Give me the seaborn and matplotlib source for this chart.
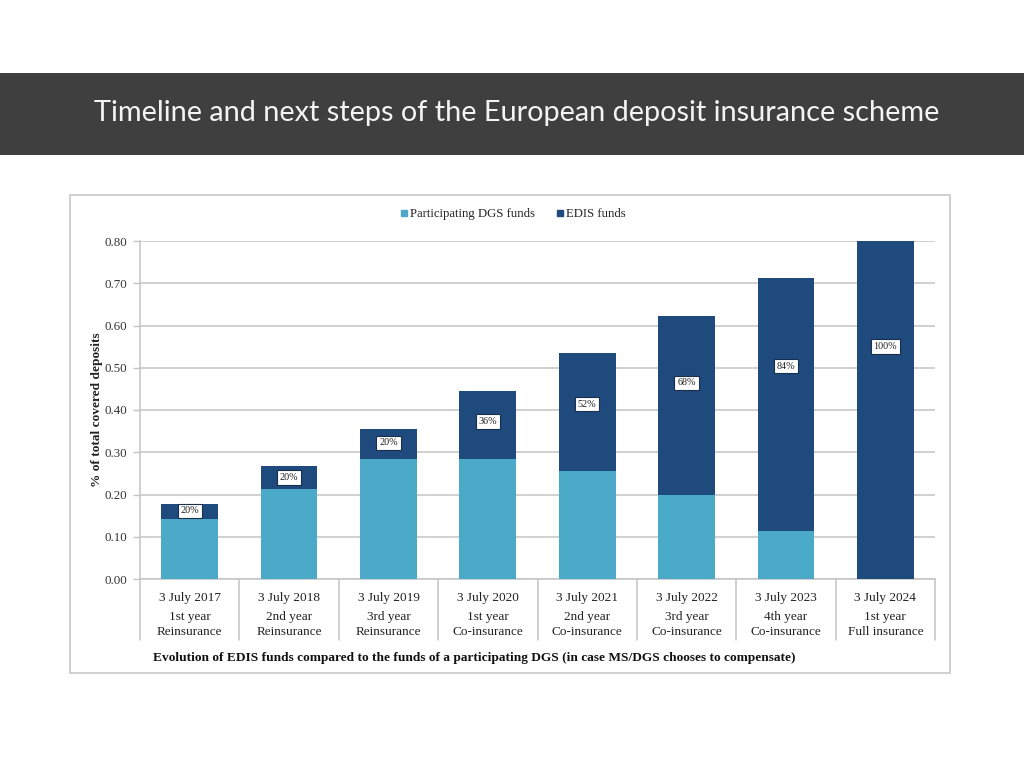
import matplotlib
matplotlib.use("Agg")
import matplotlib.pyplot as plt
import matplotlib.patches as mpatches
from matplotlib.lines import Line2D
import matplotlib.transforms as mtransforms
import seaborn as sns
import pandas as pd

# ---------------- data ----------------
title = "Timeline and next steps of the European deposit insurance scheme"
dates = ["3 July 2017", "3 July 2018", "3 July 2019", "3 July 2020",
         "3 July 2021", "3 July 2022", "3 July 2023", "3 July 2024"]
phase_year = ["1st year", "2nd year", "3rd year", "1st year",
              "2nd year", "3rd year", "4th year", "1st year"]
phase_type = ["Reinsurance", "Reinsurance", "Reinsurance", "Co-insurance",
              "Co-insurance", "Co-insurance", "Co-insurance", "Full insurance"]
dgs_funds = [0.142, 0.213, 0.284, 0.284, 0.256, 0.199, 0.114, 0.0]
edis_funds = [0.036, 0.054, 0.071, 0.161, 0.279, 0.423, 0.598, 0.800]
edis_share = ["20%", "20%", "20%", "36%", "52%", "68%", "84%", "100%"]
label_anchor = [0.161, 0.240, 0.322, 0.372, 0.414, 0.464, 0.504, 0.551]
yticks = [0.0, 0.1, 0.2, 0.3, 0.4, 0.5, 0.6, 0.7, 0.8]
series_names = ["Participating DGS funds", "EDIS funds"]
y_label = "% of total covered deposits"
caption = ("Evolution of EDIS funds compared to the funds of a participating DGS "
           "(in case MS/DGS chooses to compensate)")

# ---------------- style ----------------
LIGHT = "#4aaac8"
DARK = "#1f4a7e"
GRID = "#c4c4c4"
SERIF = ["Liberation Serif", "DejaVu Serif"]

sns.set_theme(style="white")
plt.rcParams["font.family"] = SERIF

df = pd.DataFrame({
    "date": dates,
    "dgs": dgs_funds,
    "total": [d + e for d, e in zip(dgs_funds, edis_funds)],
})

fig = plt.figure(figsize=(10.24, 7.68), dpi=100)
fig.patch.set_facecolor("white")

# header band
fig.patches.append(mpatches.Rectangle((0, 1 - 155 / 768), 1, 82 / 768,
                                      transform=fig.transFigure,
                                      facecolor="#3f3f3f", edgecolor="none", zorder=-2))
fig.text(0.505, 1 - 113 / 768, title, color="#f4f4f4", fontsize=20.8,
         family=["Lato", "DejaVu Sans"], ha="center", va="center")

# chart frame
fig.patches.append(mpatches.Rectangle((70 / 1024, 1 - 673 / 768), 880 / 1024, 478 / 768,
                                      transform=fig.transFigure, facecolor="white",
                                      edgecolor="#c8c8c8", linewidth=1.2, zorder=-2))

ax = fig.add_axes([140 / 1024, 1 - 579 / 768, 795 / 1024, 338 / 768])
ax.set_zorder(2)
ax.set_facecolor("white")

sns.barplot(data=df, x="date", y="total", color=DARK, saturation=1, width=0.57,
            errorbar=None, ax=ax, zorder=3, linewidth=0, edgecolor="none")
sns.barplot(data=df, x="date", y="dgs", color=LIGHT, saturation=1, width=0.57,
            errorbar=None, ax=ax, zorder=3, linewidth=0, edgecolor="none")

ax.set_ylim(0, 0.8)
ax.set_xlim(-0.5, len(dates) - 0.5)
ax.set_yticks(yticks)
ax.set_yticklabels([f"{v:.2f}" for v in yticks], fontsize=9.3, color="#333333")
ax.yaxis.grid(True, color=GRID, linewidth=1.1, zorder=0)
ax.set_axisbelow(True)
ax.tick_params(axis="y", length=5, width=1, color=GRID, pad=4, left=True)
ax.tick_params(axis="x", length=0, pad=9, labelsize=9.5, labelcolor="#222222")
ax.set_xlabel("")
ax.set_ylabel("")
for s in ["top", "right"]:
    ax.spines[s].set_visible(False)
for s in ["left", "bottom"]:
    ax.spines[s].set_color(GRID)
    ax.spines[s].set_linewidth(1.1)

trans = mtransforms.blended_transform_factory(ax.transData, ax.transAxes)
for i in range(len(dates)):
    ax.text(i, -38 / 338, phase_year[i], transform=trans, ha="center", va="center",
            fontsize=9.5, color="#222222")
    ax.text(i, -53 / 338, phase_type[i], transform=trans, ha="center", va="center",
            fontsize=9.5, color="#222222")
for xb in [i - 0.5 for i in range(len(dates) + 1)]:
    ax.plot([xb, xb], [0, -61 / 338], transform=trans, color=GRID, lw=1.1,
            clip_on=False)

# segment labels
for i, (lab, yy) in enumerate(zip(edis_share, label_anchor)):
    ax.text(i, yy, lab, ha="center", va="center", fontsize=7.3, color="#222222",
            zorder=5,
            bbox=dict(boxstyle="square,pad=0.28", facecolor="white",
                      edgecolor="#1a2f4a", linewidth=0.8))

# legend
handles = [Line2D([], [], marker="s", linestyle="none", markersize=5,
                  markerfacecolor=c, markeredgecolor=c) for c in (LIGHT, DARK)]
fig.legend(handles, series_names, loc="center", bbox_to_anchor=(513 / 1024, 1 - 214 / 768),
           ncol=2, frameon=False, handlelength=0.6, handletextpad=0.2,
           columnspacing=1.6, prop={"family": SERIF, "size": 9.2})

fig.text(97 / 1024, 1 - 410 / 768, y_label, rotation=90, ha="center", va="center",
         fontsize=9.6, fontweight="bold", color="#222222")
fig.text(153 / 1024, 1 - 658 / 768, caption, ha="left", va="center",
         fontsize=9.65, fontweight="bold", color="#111111")

fig.savefig("out.png", dpi=100, facecolor="white")
